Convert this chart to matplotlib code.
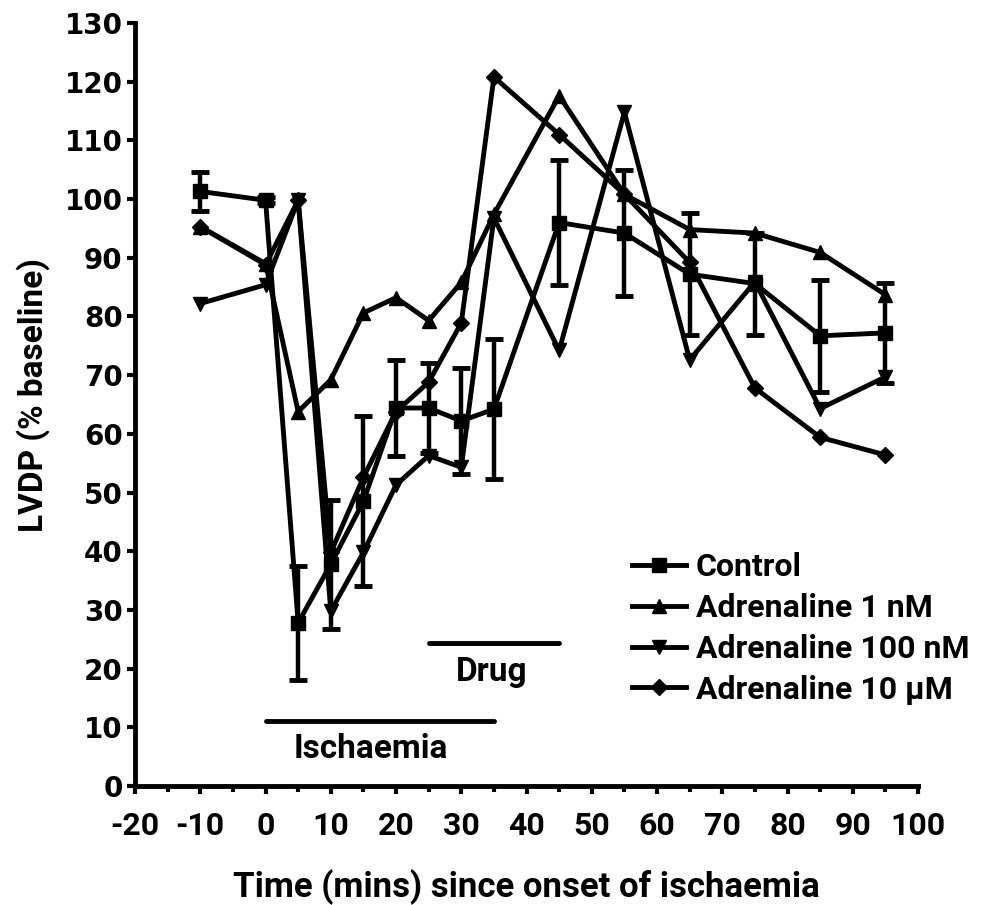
import matplotlib
matplotlib.use("Agg")
import matplotlib.pyplot as plt
from matplotlib.ticker import MultipleLocator
from matplotlib.lines import Line2D

plt.rcParams["axes.unicode_minus"] = False

times = [-10, 0, 5, 10, 15, 20, 25, 30, 35, 45, 55, 65, 75, 85, 95]
control = [101.3, 99.8, 27.8, 37.8, 48.5, 64.4, 64.4, 62.2, 64.2, 96.0, 94.2, 87.2, 85.6, 76.7, 77.2]
control_err = [3.3, 0.5, 9.7, 11.0, 14.5, 8.2, 7.6, 9.1, 11.9, 10.7, 10.7, 10.4, 8.7, 9.5, 8.5]
adr_1nM = [95.3, 89.0, 63.8, 69.2, 80.6, 83.2, 79.3, 85.8, 97.4, 117.6, 100.8, 94.8, 94.2, 90.9, 83.7]
adr_100nM = [82.2, 85.4, 99.8, 29.8, 39.8, 51.3, 56.3, 54.3, 96.8, 74.2, 114.8, 72.6, 85.9, 64.3, 69.7]
adr_10uM = [95.3, 88.8, 99.8, 39.8, 52.6, 63.8, 68.8, 78.9, 120.8, 111.0, 100.8, 89.2, 67.8, 59.4, 56.4]

labels = ["Control", "Adrenaline 1 nM", "Adrenaline 100 nM", "Adrenaline 10 \u03bcM"]
markers = ["s", "^", "v", "D"]
msizes = [9.5, 10.5, 10.5, 8]
xticks = list(range(-20, 101, 10))
yticks = list(range(0, 131, 10))

ischaemia_span = (0, 35)
drug_span = (25, 45)

fig = plt.figure(figsize=(9.98, 9.05), dpi=100)
ax = fig.add_axes([0.1353, 0.1315, 0.7846, 0.8431])

lw = 3.5
ax.errorbar(times, control, yerr=control_err, color="black", lw=lw, marker=markers[0], ms=msizes[0],
            elinewidth=3.2, capsize=6.5, capthick=3.5, zorder=3)
ax.plot(times, adr_1nM, color="black", lw=lw, marker=markers[1], ms=msizes[1], zorder=3)
ax.plot(times, adr_100nM, color="black", lw=lw, marker=markers[2], ms=msizes[2], zorder=3)
ax.plot(times, adr_10uM, color="black", lw=lw, marker=markers[3], ms=msizes[3], zorder=3)

# period bars
ax.plot(ischaemia_span, [11, 11], color="black", lw=3.5, solid_capstyle="round")
ax.plot(drug_span, [24.3, 24.3], color="black", lw=3.5, solid_capstyle="round")
ax.text(16.1, 6.3, "Ischaemia", ha="center", va="center", fontsize=24,
        fontweight="bold", family="Roboto")
ax.text(34.6, 19.4, "Drug", ha="center", va="center", fontsize=24,
        fontweight="bold", family="Roboto")

ax.set_xlim(-20, 100)
ax.set_ylim(0, 130)
ax.set_xticks(xticks)
ax.set_yticks(yticks)
ax.xaxis.set_minor_locator(MultipleLocator(5))

for s in ["top", "right"]:
    ax.spines[s].set_visible(False)
for s in ["left", "bottom"]:
    ax.spines[s].set_linewidth(3.5)
    ax.spines[s].set_capstyle("projecting")

ax.tick_params(axis="both", which="major", length=6, width=3, direction="out")
ax.tick_params(axis="x", which="minor", length=4, width=3, direction="out")
ax.tick_params(axis="x", pad=12)
ax.tick_params(axis="y", pad=3)

for t in ax.get_yticklabels():
    t.set_fontfamily("DejaVu Sans")
    t.set_fontweight("bold")
    t.set_fontsize(20)
for t in ax.get_xticklabels():
    t.set_fontfamily("Roboto")
    t.set_fontweight("bold")
    t.set_fontsize(23)

ax.set_xlabel("Time (mins) since onset of ischaemia", fontsize=25, fontweight="bold",
              family="Roboto", labelpad=20)
ax.set_ylabel("LVDP (% baseline)", fontsize=24, fontweight="bold", family="Roboto")
ax.yaxis.set_label_coords(-0.109, 0.512)

handles = [Line2D([], [], color="black", lw=lw, marker=m, ms=ms) for m, ms in zip(markers, msizes)]
leg = ax.legend(handles, labels, loc="upper left", bbox_to_anchor=(632 / 998, 1 - 552 / 905),
                bbox_transform=fig.transFigure, frameon=False, handlelength=1.7,
                handletextpad=0.3, labelspacing=0.34, borderpad=0, borderaxespad=0,
                prop={"family": "Roboto", "weight": "bold", "size": 23})

fig.savefig("out.png", dpi=100)
